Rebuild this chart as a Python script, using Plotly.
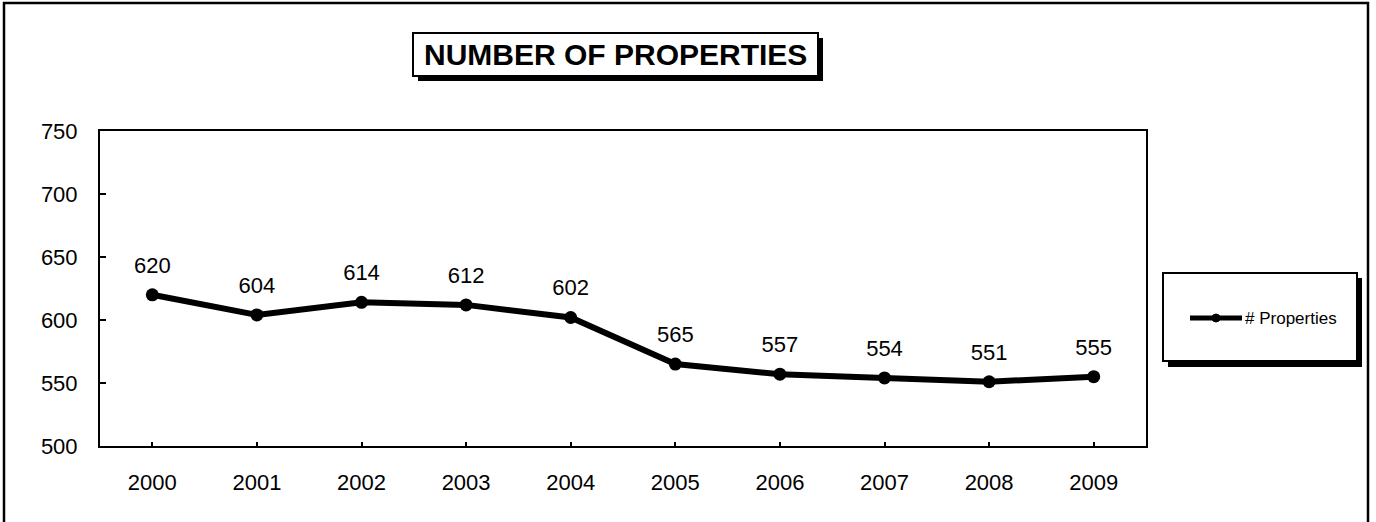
import plotly.graph_objects as go

years = ["2000", "2001", "2002", "2003", "2004", "2005", "2006", "2007", "2008", "2009"]
properties = [620, 604, 614, 612, 602, 565, 557, 554, 551, 555]
y_ticks = [500, 550, 600, 650, 700, 750]
series_name = "# Properties"
title_text = "NUMBER OF PROPERTIES"

FONT = "Liberation Sans, Arial, sans-serif"
W, H = 1376, 522
L, R, T, B = 100, 230, 131, 76
PW, PH = W - L - R, H - T - B


def px(x):
    return (x - L) / PW


def py(y):
    return (H - B - y) / PH


fig = go.Figure()
fig.add_trace(go.Scatter(
    x=years, y=properties, mode="lines+markers", name=series_name,
    line=dict(color="black", width=6),
    marker=dict(color="black", size=13),
    cliponaxis=False, showlegend=False, hoverinfo="x+y",
))
# data labels (transparent larger marker to lift the label above the point)
fig.add_trace(go.Scatter(
    x=years, y=properties, mode="markers+text", name=series_name + " labels",
    text=[str(v) for v in properties], textposition="top center",
    textfont=dict(family=FONT, size=22, color="black"),
    marker=dict(color="rgba(0,0,0,0)", size=25),
    cliponaxis=False, showlegend=False, hoverinfo="skip",
))

shapes = []
# outer chart border
shapes.append(dict(type="rect", xref="paper", yref="paper",
                   x0=px(4), x1=px(1368), y0=py(530), y1=py(3),
                   line=dict(color="black", width=2.5), fillcolor="rgba(0,0,0,0)", layer="below"))
# title box shadow + box
shapes.append(dict(type="rect", xref="paper", yref="paper",
                   x0=px(418), x1=px(823), y0=py(81), y1=py(38),
                   line=dict(color="black", width=0), fillcolor="black"))
shapes.append(dict(type="rect", xref="paper", yref="paper",
                   x0=px(413), x1=px(818), y0=py(76), y1=py(33),
                   line=dict(color="black", width=2), fillcolor="white"))
# legend box shadow + box
shapes.append(dict(type="rect", xref="paper", yref="paper",
                   x0=px(1168), x1=px(1362), y0=py(367), y1=py(278),
                   line=dict(color="black", width=0), fillcolor="black"))
shapes.append(dict(type="rect", xref="paper", yref="paper",
                   x0=px(1163), x1=px(1357), y0=py(361), y1=py(273),
                   line=dict(color="black", width=2), fillcolor="white"))
# legend sample: line with marker
shapes.append(dict(type="line", xref="paper", yref="paper",
                   x0=px(1190), x1=px(1242), y0=py(318), y1=py(318),
                   line=dict(color="black", width=5)))
shapes.append(dict(type="circle", xref="paper", yref="paper",
                   x0=px(1212), x1=px(1220), y0=py(322), y1=py(314),
                   line=dict(color="black", width=1), fillcolor="black"))

fig.update_layout(
    width=W, height=H,
    margin=dict(l=L, r=R, t=T, b=B, autoexpand=False),
    paper_bgcolor="white", plot_bgcolor="white",
    font=dict(family=FONT, color="black", size=22),
    showlegend=False,
    shapes=shapes,
    annotations=[
        dict(text="<b>" + title_text + "</b>", xref="paper", yref="paper",
             x=px(615.5), y=py(54.5), xanchor="center", yanchor="middle",
             showarrow=False, font=dict(family=FONT, size=30, color="black")),
        dict(text=series_name, xref="paper", yref="paper",
             x=px(1243), y=py(318), xanchor="left", yanchor="middle",
             showarrow=False, font=dict(family=FONT, size=17, color="black")),
    ],
)
fig.update_xaxes(
    type="category", range=[-0.5, len(years) - 0.5],
    showline=True, linecolor="black", linewidth=2, mirror=True,
    ticks="inside", ticklen=4, tickwidth=1.5, tickcolor="black",
    ticklabelstandoff=16, showgrid=False, zeroline=False,
    tickfont=dict(family=FONT, size=22, color="black"),
)
fig.update_yaxes(
    range=[500, 750], tickvals=y_ticks,
    showline=True, linecolor="black", linewidth=2, mirror=True,
    ticks="inside", ticklen=6, tickwidth=1.5, tickcolor="black",
    ticklabelstandoff=16, showgrid=False, zeroline=False,
    tickfont=dict(family=FONT, size=22, color="black"),
)

fig.write_html("out.html", config={"displayModeBar": False},
               post_script="document.body.style.margin='0';document.body.style.overflow='hidden';")
